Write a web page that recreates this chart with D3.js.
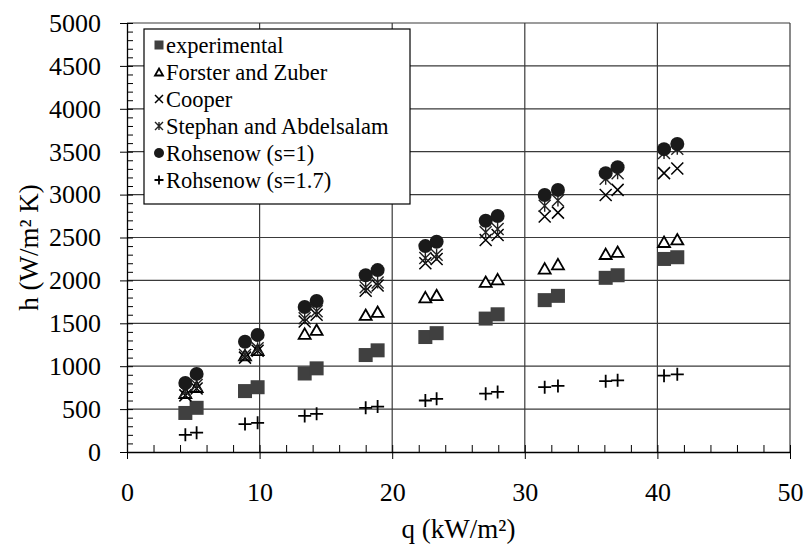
<!DOCTYPE html>
<html>
<head>
<meta charset="utf-8">
<script src="https://cdn.jsdelivr.net/npm/d3@7"></script>
<style>
  body { margin: 0; background: white; }
  #chart { display: block; }
  text { font-family: "Liberation Serif", "Times New Roman", serif; fill: black; }
</style>
</head>
<body>
<svg id="chart" width="806" height="546"></svg>
<script>
// heat flux values, two runs per level (kW/m2)
var qValues = [4.4, 5.25, 8.9, 9.85, 13.4, 14.3, 18.0, 18.9, 22.5, 23.35,
               27.05, 27.95, 31.5, 32.5, 36.1, 37.0, 40.5, 41.5];
// heat transfer coefficient per series (W/m2 K)
var experimental = [455, 515, 710, 755, 915, 975, 1130, 1185, 1340, 1385,
                    1555, 1605, 1770, 1820, 2030, 2060, 2250, 2270];
var forsterZuber = [690, 760, 1130, 1190, 1380, 1425, 1600, 1635, 1805, 1830,
                    1985, 2015, 2140, 2190, 2310, 2335, 2450, 2480];
var cooper = [660, 740, 1100, 1180, 1520, 1600, 1880, 1940, 2200, 2250,
              2470, 2530, 2745, 2790, 2995, 3055, 3250, 3305];
var stephan = [705, 780, 1130, 1210, 1560, 1640, 1920, 1975, 2260, 2300,
               2560, 2600, 2870, 2930, 3185, 3250, 3485, 3535];
var rohsenow1 = [805, 910, 1285, 1365, 1690, 1760, 2060, 2120, 2400, 2450,
                 2695, 2750, 2995, 3055, 3250, 3320, 3530, 3590];
var rohsenow17 = [200, 225, 325, 340, 420, 445, 515, 530, 600, 620,
                  680, 700, 755, 770, 825, 835, 890, 905];

var seriesNames = ["experimental", "Forster and Zuber", "Cooper",
                   "Stephan and Abdelsalam", "Rohsenow (s=1)", "Rohsenow (s=1.7)"];
var xTicks = [0, 10, 20, 30, 40, 50];
var yTicks = [0, 500, 1000, 1500, 2000, 2500, 3000, 3500, 4000, 4500, 5000];

var serif = "'Liberation Serif', 'Times New Roman', serif";
var svg = d3.select("#chart");
var plot = { left: 127, top: 23, right: 790, bottom: 452 };

var x = d3.scaleLinear().domain([0, 50]).range([plot.left, plot.right]);
var y = d3.scaleLinear().domain([0, 5000]).range([plot.bottom, plot.top]);

// grid lines
var grid = svg.append("g").attr("stroke", "#3a3a3a").attr("stroke-width", 1.2);
grid.selectAll("line.h")
  .data(yTicks.slice(1))
  .enter().append("line")
  .attr("x1", plot.left).attr("x2", plot.right)
  .attr("y1", d => y(d)).attr("y2", d => y(d));
grid.selectAll("line.v")
  .data(xTicks.slice(1))
  .enter().append("line")
  .attr("y1", plot.top).attr("y2", plot.bottom)
  .attr("x1", d => x(d)).attr("x2", d => x(d));

// x axis: major ticks outside, minor inside
svg.append("g")
  .attr("transform", `translate(0,${plot.bottom})`)
  .call(d3.axisBottom(x).tickValues(d3.range(0, 51, 2)).tickSize(-7).tickFormat(""))
  .call(g => g.select(".domain").remove())
  .selectAll("line").attr("stroke", "black");
svg.append("g")
  .attr("class", "x-axis")
  .attr("transform", `translate(0,${plot.bottom})`)
  .call(d3.axisBottom(x).tickValues(xTicks).tickSize(7).tickSizeOuter(0)
        .tickPadding(24).tickFormat(d3.format("d")))
  .call(g => g.attr("font-family", serif).attr("font-size", 26))
  .call(g => g.select(".domain").attr("stroke", "black").attr("stroke-width", 1.3));

// y axis: major ticks outside, minor inside
svg.append("g")
  .attr("transform", `translate(${plot.left},0)`)
  .call(d3.axisRight(y).tickValues(d3.range(0, 5001, 100)).tickSize(6).tickFormat(""))
  .call(g => g.select(".domain").remove())
  .selectAll("line").attr("stroke", "black");
svg.append("g")
  .attr("class", "y-axis")
  .attr("transform", `translate(${plot.left},0)`)
  .call(d3.axisLeft(y).tickValues(yTicks).tickSize(7).tickSizeOuter(0)
        .tickPadding(19).tickFormat(d3.format("d")))
  .call(g => g.attr("font-family", serif).attr("font-size", 26))
  .call(g => g.select(".domain").attr("stroke", "black").attr("stroke-width", 1.3));

// axis titles
svg.append("text")
  .attr("x", (plot.left + plot.right) / 2)
  .attr("y", 538)
  .style("text-anchor", "middle")
  .style("font-size", "27px")
  .text("q (kW/m²)");
svg.append("text")
  .attr("transform", `translate(38,${(plot.top + plot.bottom) / 2 + 10}) rotate(-90)`)
  .style("text-anchor", "middle")
  .style("font-size", "27px")
  .text("h (W/m² K)");

// marker drawing functions, s = size
var markers = [
  function(g, s) {
    g.append("rect").attr("x", -s / 2).attr("y", -s / 2).attr("width", s).attr("height", s)
      .attr("fill", "#404040");
  },
  function(g, s) {
    var h = s * 0.87;
    g.append("path").attr("d", `M0,${-h / 2}L${s / 2},${h / 2}L${-s / 2},${h / 2}Z`)
      .attr("fill", "white").attr("stroke", "black").attr("stroke-width", 1.8);
  },
  function(g, s) {
    g.append("path").attr("d", `M${-s / 2},${-s / 2}L${s / 2},${s / 2}M${s / 2},${-s / 2}L${-s / 2},${s / 2}`)
      .attr("stroke", "black").attr("stroke-width", 1.5);
  },
  function(g, s) {
    g.append("path").attr("d", `M${-s / 2},${-s / 2}L${s / 2},${s / 2}M${s / 2},${-s / 2}L${-s / 2},${s / 2}M0,${-s / 2}L0,${s / 2}`)
      .attr("stroke", "#222").attr("stroke-width", 1.4);
  },
  function(g, s) {
    g.append("circle").attr("r", s / 2).attr("fill", "#1a1a1a");
  },
  function(g, s) {
    g.append("path").attr("d", `M${-s / 2},0L${s / 2},0M0,${-s / 2}L0,${s / 2}`)
      .attr("stroke", "black").attr("stroke-width", 1.8);
  }
];
var plotSizes = [14, 12, 12, 12, 14, 13];
var legendSizes = [9, 8, 8, 8, 10, 9];

// draw points
var allSeries = [experimental, forsterZuber, cooper, stephan, rohsenow1, rohsenow17];
var drawOrder = [0, 5, 1, 2, 3, 4];
drawOrder.forEach(function(si) {
  var layer = svg.append("g");
  allSeries[si].forEach(function(h, i) {
    var g = layer.append("g").attr("transform", `translate(${x(qValues[i])},${y(h)})`);
    markers[si](g, plotSizes[si]);
  });
});

// legend box
var legend = svg.append("g").attr("transform", "translate(144,29)");
legend.append("rect")
  .attr("width", 266).attr("height", 175)
  .attr("fill", "white").attr("stroke", "black").attr("stroke-width", 1.2);
seriesNames.forEach(function(name, i) {
  var row = legend.append("g").attr("transform", `translate(0,${16 + i * 27})`);
  markers[i](row.append("g").attr("transform", "translate(15,0)"), legendSizes[i]);
  row.append("text")
    .attr("x", 22)
    .attr("dy", "0.34em")
    .style("font-size", "22.5px")
    .text(name);
});
</script>
</body>
</html>
